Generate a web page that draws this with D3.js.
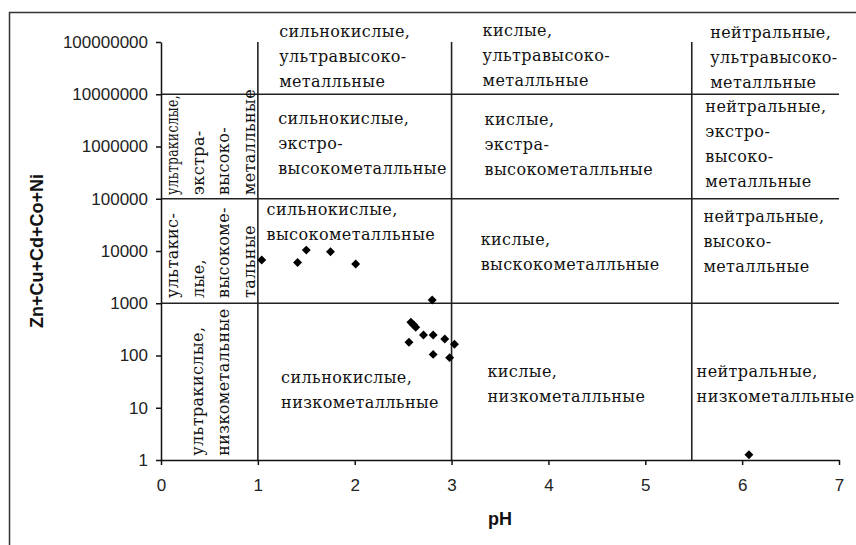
<!DOCTYPE html>
<html>
<head>
<meta charset="utf-8">
<script src="https://cdnjs.cloudflare.com/ajax/libs/d3/7.8.5/d3.min.js"></script>
<style>
  body { margin: 0; background: #fff; }
  svg { display: block; }
  .tick text { font-family: "Liberation Sans", Arial, sans-serif; font-size: 17px; fill: #222; }
  .zone { font-family: "DejaVu Serif", serif; font-size: 16px; letter-spacing: 0.4px; fill: #111; }
  .title { font-family: "Liberation Sans", Arial, sans-serif; font-size: 18px; font-weight: bold; fill: #111; }
</style>
</head>
<body>
<div id="chart"></div>
<script>
// measured samples: pH and Zn+Cu+Cd+Co+Ni
var phValues    = [1.04, 1.41, 1.50, 1.75, 2.01, 2.80, 2.58, 2.61, 2.63, 2.71, 2.81, 2.93, 2.56, 3.03, 2.81, 2.98, 6.07];
var metalValues = [6700, 6000, 10400, 9700, 5650, 1150, 432, 384, 347, 247, 247, 207, 179, 164, 105, 91, 1.26];

var xTicks = [0, 1, 2, 3, 4, 5, 6, 7];
var yTicks = [1, 10, 100, 1000, 10000, 100000, 1000000, 10000000, 100000000];

// zone boundaries
var phBounds    = [1, 3, 5.48];
var metalBounds = [1000, 100000, 10000000];

// zone captions, anchored in data units (pH, log10 of metal sum)
var zoneLabels = [
  { ph: 1.22, lg: 8.10, lines: ['сильнокислые,', 'ультравысоко-', 'металльные'] },
  { ph: 3.32, lg: 8.12, lines: ['кислые,', 'ультравысоко-', 'металльные'] },
  { ph: 5.67, lg: 8.08, lines: ['нейтральные,', 'ультравысоко-', 'металльные'] },
  { ph: 1.21, lg: 6.43, lines: ['сильнокислые,', 'экстро-', 'высокометалльные'] },
  { ph: 3.34, lg: 6.41, lines: ['кислые,', 'экстра-', 'высокометалльные'] },
  { ph: 5.62, lg: 6.66, lines: ['нейтральные,', 'экстро-', 'высоко-', 'металльные'] },
  { ph: 1.09, lg: 4.69, lines: ['сильнокислые,', 'высокометалльные'] },
  { ph: 3.30, lg: 4.12, lines: ['кислые,', 'выскокометалльные'] },
  { ph: 5.60, lg: 4.56, lines: ['нейтральные,', 'высоко-', 'металльные'] },
  { ph: 1.24, lg: 1.47, lines: ['сильнокислые,', 'низкометалльные'] },
  { ph: 3.37, lg: 1.59, lines: ['кислые,', 'низкометалльные'] },
  { ph: 5.53, lg: 1.59, lines: ['нейтральные,', 'низкометалльные'] }
];

// vertical captions in the first column, read bottom to top
var sideLabels = [
  { ph: 0.176, lg: 5.07, step: 25.5, lines: ['ультракислые,', 'экстра-', 'высоко-', 'металльные'] },
  { ph: 0.176, lg: 3.10, step: 25.5, lines: ['ультакис-', 'лые,', 'высокоме-', 'тальные'] },
  { ph: 0.434, lg: 0.08, step: 26,   lines: ['ультракислые,', 'низкометальные'] }
];

drawChart();

function drawChart() {

  var w = 856;
  var h = 545;

  var svg = d3.select('#chart').append('svg')
              .attr('width', w)
              .attr('height', h);

  var x = d3.scaleLinear().domain([0, 7]).range([161, 839]);
  var y = d3.scaleLog().domain([1, 100000000]).range([460, 42]);

  // chart frame
  svg.append('path')
     .attr('d', 'M9.5,545V12.5H856')
     .attr('fill', 'none')
     .attr('stroke', '#333')
     .attr('stroke-width', 1.5);

  // zone boundaries
  svg.selectAll('.hbound')
     .data(metalBounds)
     .enter()
     .append('line')
     .attr('class', 'hbound')
     .attr('x1', x(0))
     .attr('x2', x(7))
     .attr('y1', function(d) { return y(d) })
     .attr('y2', function(d) { return y(d) })
     .attr('stroke', '#222')
     .attr('stroke-width', 1.6);

  svg.selectAll('.vbound')
     .data(phBounds)
     .enter()
     .append('line')
     .attr('class', 'vbound')
     .attr('x1', function(d) { return x(d) })
     .attr('x2', function(d) { return x(d) })
     .attr('y1', y(1))
     .attr('y2', y(100000000))
     .attr('stroke', '#222')
     .attr('stroke-width', 1.6);

  // axes
  var yAxis = d3.axisLeft(y)
                .tickValues(yTicks)
                .tickFormat(d3.format('d'))
                .tickSize(5)
                .tickSizeOuter(0)
                .tickPadding(8);

  var xAxis = d3.axisBottom(x)
                .tickValues(xTicks)
                .tickFormat(d3.format('d'))
                .tickSize(5)
                .tickSizeOuter(0)
                .tickPadding(14);

  svg.append('g')
     .attr('transform', 'translate(' + x(0) + ',0)')
     .call(yAxis);

  svg.append('g')
     .attr('transform', 'translate(0,' + y(1) + ')')
     .call(xAxis);

  svg.selectAll('.domain, .tick line')
     .attr('stroke', '#111')
     .attr('stroke-width', 1.5);

  // captions
  zoneLabels.forEach(function(z) {
    var t = svg.append('text')
               .attr('class', 'zone')
               .attr('x', x(z.ph))
               .attr('y', y(Math.pow(10, z.lg)));
    t.selectAll('tspan')
     .data(z.lines)
     .enter()
     .append('tspan')
     .attr('x', x(z.ph))
     .attr('dy', function(d, i) { return i == 0 ? 0 : 25 })
     .text(function(d) { return d });
  });

  sideLabels.forEach(function(z) {
    z.lines.forEach(function(line, i) {
      var px = x(z.ph) + i * z.step;
      var py = y(Math.pow(10, z.lg));
      var t = svg.append('text')
                 .attr('class', 'zone')
                 .attr('transform', 'translate(' + px + ',' + py + ') rotate(-90)')
                 .text(line);
      // the top-left caption is set in a narrower face in the original
      if (z.lg > 5 && i == 0) {
        t.attr('textLength', 100).attr('lengthAdjust', 'spacingAndGlyphs');
      }
    });
  });

  // samples
  var points = phValues.map(function(d, i) { return { ph: d, metal: metalValues[i] } });

  svg.selectAll('.pt')
     .data(points)
     .enter()
     .append('path')
     .attr('class', 'pt')
     .attr('d', d3.symbol().type(d3.symbolSquare).size(40))
     .attr('transform', function(d) {
       return 'translate(' + x(d.ph) + ',' + y(d.metal) + ') rotate(45)';
     })
     .attr('fill', '#000');

  // axis titles
  svg.append('text')
     .attr('class', 'title')
     .attr('x', 500)
     .attr('y', 525)
     .attr('text-anchor', 'middle')
     .text('pH');

  svg.append('text')
     .attr('class', 'title')
     .attr('transform', 'translate(43,251) rotate(-90)')
     .attr('text-anchor', 'middle')
     .text('Zn+Cu+Cd+Co+Ni');
}
</script>
</body>
</html>
